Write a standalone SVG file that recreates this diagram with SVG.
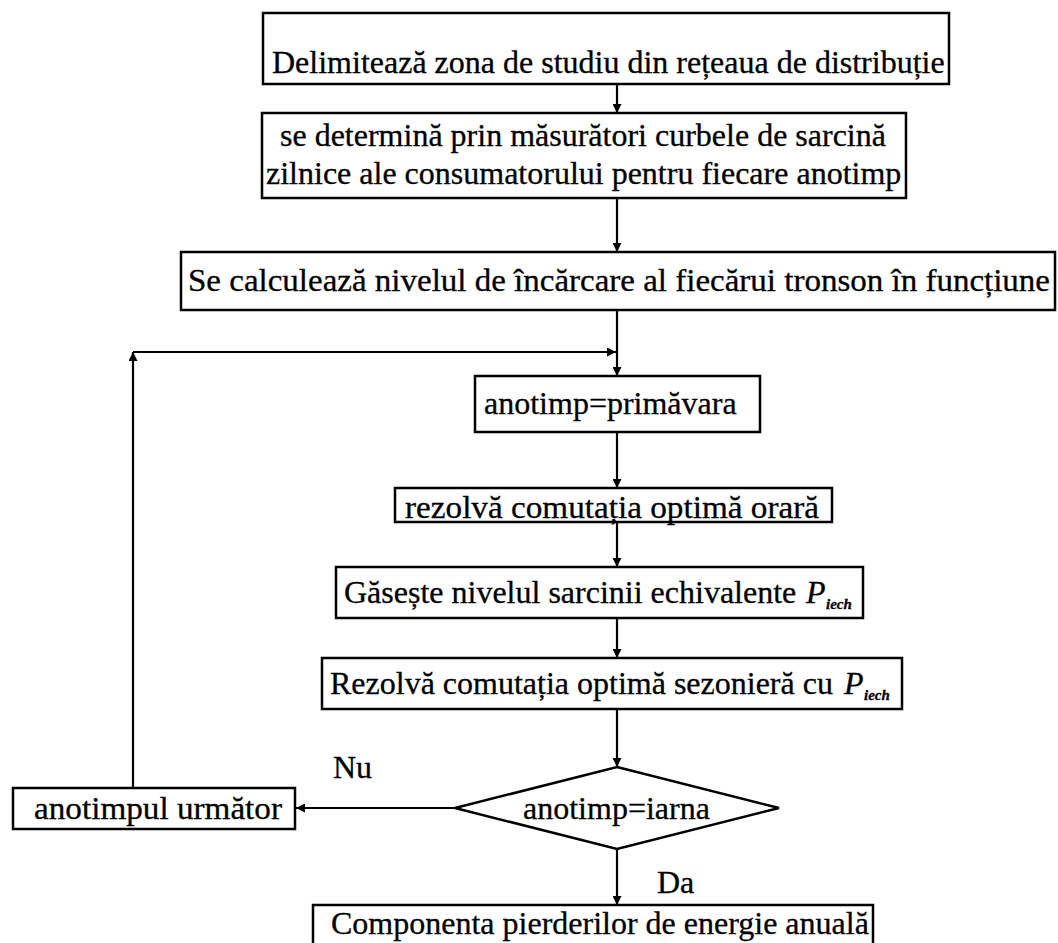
<svg xmlns="http://www.w3.org/2000/svg" width="1058" height="943" viewBox="0 0 1058 943">
<defs>
<marker id="ah" viewBox="0 0 10 10" refX="10" refY="5" markerWidth="10" markerHeight="9" markerUnits="userSpaceOnUse" orient="auto">
<path d="M0,0 L10,5 L0,10 z" fill="#000"/>
</marker>
<style>
.box{fill:#fff;stroke:#000;stroke-width:2.5}
.t{font-family:"Liberation Serif","Times New Roman",serif;font-size:32px;fill:#000;stroke:#000;stroke-width:0.3}
.c{stroke:#000;stroke-width:2.2;fill:none}
.it{font-style:italic}
.sub{font-size:15px;font-style:italic;font-weight:bold}
</style>
</defs>
<rect width="1058" height="943" fill="#fff"/>
<g id="connectors">
<line class="c" x1="617" y1="84" x2="617" y2="113" marker-end="url(#ah)"/>
<line class="c" x1="617" y1="198" x2="617" y2="252" marker-end="url(#ah)"/>
<line class="c" x1="617" y1="310" x2="617" y2="376" marker-end="url(#ah)"/>
<line class="c" x1="617" y1="432" x2="617" y2="488" marker-end="url(#ah)"/>
<line class="c" x1="617" y1="522" x2="617" y2="567" marker-end="url(#ah)"/>
<line class="c" x1="617" y1="618" x2="617" y2="658" marker-end="url(#ah)"/>
<line class="c" x1="617" y1="709" x2="617" y2="767" marker-end="url(#ah)"/>
<line class="c" x1="456" y1="808" x2="296" y2="808" marker-end="url(#ah)"/>
<line class="c" x1="133" y1="788" x2="133" y2="352" marker-end="url(#ah)"/>
<line class="c" x1="133" y1="352" x2="616" y2="352" marker-end="url(#ah)"/>
<line class="c" x1="617" y1="849" x2="617" y2="905" marker-end="url(#ah)"/>
</g>
<g id="n1">
<rect class="box" x="263" y="13" width="686" height="71"/>
<text class="t" x="272" y="73">Delimitează zona de studiu din rețeaua de distribuție</text>
</g>
<g id="n2">
<rect class="box" x="262" y="113" width="644" height="85"/>
<text class="t" x="280" y="146">se determină prin măsurători curbele de sarcină</text>
<text class="t" x="266" y="184">zilnice ale consumatorului pentru fiecare anotimp</text>
</g>
<g id="n3">
<rect class="box" x="181" y="252" width="874" height="58"/>
<text class="t" x="188" y="291" textLength="862" lengthAdjust="spacingAndGlyphs">Se calculează nivelul de încărcare al fiecărui tronson în funcțiune</text>
</g>
<g id="n4">
<rect class="box" x="475" y="376" width="285" height="56"/>
<text class="t" x="484" y="414">anotimp=primăvara</text>
</g>
<g id="n5">
<rect class="box" x="395" y="488" width="437" height="34"/>
<text class="t" x="405" y="518" textLength="414" lengthAdjust="spacingAndGlyphs">rezolvă comutația optimă orară</text>
</g>
<g id="n6">
<rect class="box" x="336" y="567" width="527" height="51"/>
<text class="t" x="344" y="603">Găsește nivelul sarcinii echivalente</text>
<text class="t it" x="806" y="603">P</text>
<text class="t sub" x="826" y="609">iech</text>
</g>
<g id="n7">
<rect class="box" x="322" y="658" width="580" height="51"/>
<text class="t" x="330" y="694">Rezolvă comutația optimă sezonieră cu</text>
<text class="t it" x="844" y="694">P</text>
<text class="t sub" x="864" y="700">iech</text>
</g>
<g id="n8">
<polygon class="box" points="617,767 779,808 617,849 455,808"/>
<text class="t" x="523" y="819">anotimp=iarna</text>
</g>
<g id="n9">
<rect class="box" x="13" y="788" width="282" height="41"/>
<text class="t" x="34" y="819" textLength="248" lengthAdjust="spacingAndGlyphs">anotimpul următor</text>
</g>
<text class="t" x="333" y="778">Nu</text>
<text class="t" x="657" y="893">Da</text>
<g id="n10">
<path class="box" d="M313,945 L313,905 L873,905 L873,945"/>
<text class="t" x="331" y="934">Componenta pierderilor de energie anuală</text>
</g>
</svg>
